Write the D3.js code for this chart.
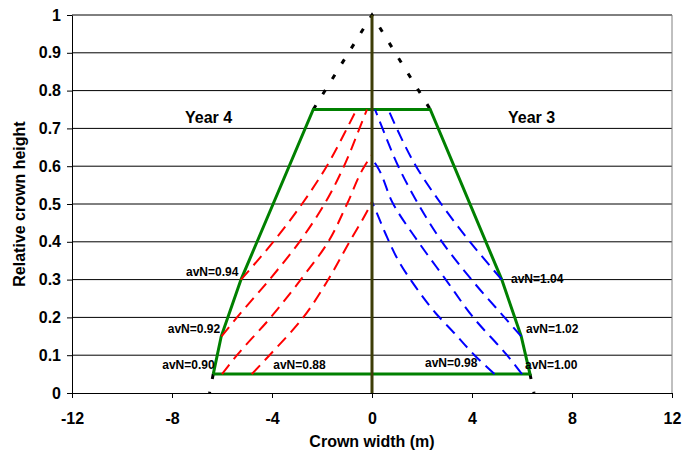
<!DOCTYPE html>
<html>
<head>
<meta charset="utf-8">
<script src="https://cdn.jsdelivr.net/npm/d3@7/dist/d3.min.js"></script>
<style>
  body { margin: 0; background: #fff; }
  svg { display: block; font-family: "Liberation Sans", Arial, sans-serif; font-weight: bold; }
</style>
</head>
<body>
<svg id="chart" width="694" height="456"></svg>
<script>
// axis ticks
const yTicks = [0, 0.1, 0.2, 0.3, 0.4, 0.5, 0.6, 0.7, 0.8, 0.9, 1]
const xTicks = [-12, -8, -4, 0, 4, 8, 12]

// crown outline, [width, relative height]
const outline = [[-6.35, 0.05], [-6.03, 0.15], [-5.24, 0.30], [-2.35, 0.75], [2.33, 0.75], [5.19, 0.30], [5.97, 0.15], [6.32, 0.05], [-6.35, 0.05]]
// rest of the cone, dotted
const coneTop = [[-2.35, 0.75], [0, 1], [2.33, 0.75]]
const coneLeft = [[-6.35, 0.05], [-6.5, 0]]
const coneRight = [[6.32, 0.05], [6.48, 0]]
const stem = [[0, 0], [0, 1]]

// Year 4 (red)
const year4_094 = [[-5.24, 0.30], [-3.95, 0.40], [-2.8, 0.50], [-1.81, 0.60], [-1.0, 0.70], [-0.62, 0.75]]
const year4_092 = [[-6.02, 0.15], [-5.4, 0.20], [-4.1, 0.30], [-2.9, 0.40], [-1.9, 0.50], [-1.12, 0.60], [-0.5, 0.70], [-0.2, 0.75]]
const year4_090 = [[-6.0, 0.05], [-5.4, 0.10], [-4.05, 0.20], [-2.85, 0.30], [-1.75, 0.40], [-1.0, 0.50], [-0.3, 0.60], [0, 0.63]]
const year4_088 = [[-4.81, 0.05], [-4.1, 0.10], [-2.75, 0.20], [-1.75, 0.30], [-0.9, 0.40], [-0.2, 0.48], [0, 0.506]]

// Year 3 (blue)
const year3_104 = [[5.19, 0.30], [3.92, 0.40], [2.77, 0.50], [1.76, 0.60], [0.99, 0.70], [0.65, 0.75]]
const year3_102 = [[5.97, 0.15], [5.3, 0.20], [3.98, 0.30], [2.8, 0.40], [1.85, 0.50], [1.05, 0.60], [0.42, 0.70], [0.12, 0.75]]
const year3_100 = [[6.0, 0.05], [5.4, 0.10], [4.05, 0.20], [2.95, 0.30], [1.85, 0.40], [0.85, 0.50], [0.2, 0.60], [0, 0.62]]
const year3_098 = [[4.9, 0.05], [4.1, 0.10], [3.3, 0.158], [2.55, 0.211], [1.75, 0.28], [1.1, 0.345], [0.55, 0.42], [0.2, 0.475], [0, 0.506]]

// labels: text, x, y (data units, start of text / baseline)
const avnLabels = [
    ["avN=0.94", -7.44, 0.310],
    ["avN=0.92", -8.17, 0.160],
    ["avN=0.90", -8.39, 0.064],
    ["avN=0.88", -3.95, 0.063],
    ["avN=0.98", 2.12, 0.068],
    ["avN=1.00", 6.12, 0.063],
    ["avN=1.02", 6.16, 0.158],
    ["avN=1.04", 5.56, 0.292],
]
const yearLabels = [["Year 4", -7.48, 0.713], ["Year 3", 5.44, 0.713]]

const svg = d3.select("#chart")
const width = +svg.attr("width")
const height = +svg.attr("height")
const margin = { top: 15, right: 22, bottom: 63, left: 72 }

const x = d3.scaleLinear().domain([-12, 12]).range([margin.left, width - margin.right])
const y = d3.scaleLinear().domain([0, 1]).range([height - margin.bottom, margin.top])

svg.append("rect").attr("width", width).attr("height", height).attr("fill", "#fff")

// gridlines
svg.append("g").selectAll("line")
    .data(yTicks.filter(d => d > 0))
    .enter().append("line")
    .attr("x1", x(-12)).attr("x2", x(12))
    .attr("y1", d => y(d)).attr("y2", d => y(d))
    .attr("stroke", "#000")
    .attr("stroke-width", 1)

// right border of the plot area
svg.append("line")
    .attr("x1", x(12)).attr("x2", x(12))
    .attr("y1", y(0)).attr("y2", y(1))
    .attr("stroke", "#808080")

const line = d3.line().x(d => x(d[0])).y(d => y(d[1]))
const curve = d3.line().x(d => x(d[0])).y(d => y(d[1])).curve(d3.curveMonotoneY)

const marks = svg.append("g")

// dotted cone
;[coneTop, coneLeft, coneRight].forEach(pts => {
    marks.append("path")
        .attr("d", line(pts))
        .attr("fill", "none")
        .attr("stroke", "#000")
        .attr("stroke-width", 3)
        .attr("stroke-dasharray", "5,13")
})

marks.append("path")
    .attr("d", line(outline))
    .attr("fill", "none")
    .attr("stroke", "#008000")
    .attr("stroke-width", 3)

;[year4_094, year4_092, year4_090, year4_088].forEach(pts => {
    marks.append("path")
        .attr("d", curve(pts))
        .attr("fill", "none")
        .attr("stroke", "#ff0000")
        .attr("stroke-width", 2)
        .attr("stroke-dasharray", "12,7")
})

;[year3_104, year3_102, year3_100, year3_098].forEach(pts => {
    marks.append("path")
        .attr("d", curve(pts))
        .attr("fill", "none")
        .attr("stroke", "#0000ff")
        .attr("stroke-width", 2)
        .attr("stroke-dasharray", "12,7")
})

marks.append("path")
    .attr("d", line(stem))
    .attr("fill", "none")
    .attr("stroke", "#3d3d08")
    .attr("stroke-width", 3)

// axes
const yAxis = svg.append("g")
    .attr("transform", "translate(" + margin.left + ",0)")
    .call(d3.axisLeft(y).tickValues(yTicks).tickSize(5).tickSizeOuter(0).tickPadding(6).tickFormat(d => d))
const xAxis = svg.append("g")
    .attr("transform", "translate(0," + y(0) + ")")
    .call(d3.axisBottom(x).tickValues(xTicks).tickSize(5).tickSizeOuter(0).tickPadding(15).tickFormat(d => d))

;[yAxis, xAxis].forEach(ax => {
    ax.selectAll("path, line").attr("stroke", "#000")
    ax.selectAll("text")
        .attr("fill", "#000")
        .style("font-size", "16px")
        .style("font-family", "\"Liberation Sans\", Arial, sans-serif")
        .style("font-weight", "bold")
})

// axis titles
svg.append("text")
    .attr("x", x(0))
    .attr("y", 447)
    .attr("text-anchor", "middle")
    .style("font-size", "16px")
    .text("Crown width (m)")

svg.append("text")
    .attr("transform", "translate(25," + y(0.5) + ") rotate(-90)")
    .attr("text-anchor", "middle")
    .style("font-size", "16px")
    .text("Relative crown height")

// annotations
svg.append("g").selectAll("text")
    .data(avnLabels)
    .enter().append("text")
    .attr("x", d => x(d[1]))
    .attr("y", d => y(d[2]))
    .style("font-size", "12px")
    .text(d => d[0])

svg.append("g").selectAll("text")
    .data(yearLabels)
    .enter().append("text")
    .attr("x", d => x(d[1]))
    .attr("y", d => y(d[2]))
    .style("font-size", "16px")
    .text(d => d[0])
</script>
</body>
</html>
